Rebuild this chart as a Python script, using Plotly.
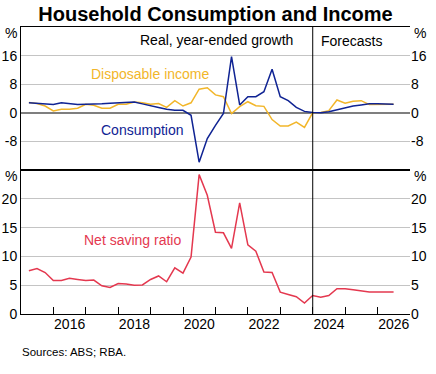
import plotly.graph_objects as go
import pandas as pd

# Quarterly data, Mar 2015 to Jun 2026 (forecasts from Mar 2024)
quarters = pd.date_range("2015-03-31", periods=46, freq="QE")

consumption = [2.8, 2.6, 2.5, 2.3, 2.8, 2.6, 2.3, 2.4, 2.4, 2.5, 2.7, 2.8, 2.8, 3.0, 2.5, 1.9,
               1.5, 1.0, 0.7, 0.7, -0.7, -13.8, -7.2, -3.5, -0.2, 15.7, 2.2, 4.5, 4.5, 5.9, 12.2,
               4.5, 3.4, 1.5, 0.4, 0.1, 0.0, 0.3, 0.9, 1.4, 1.9, 2.2, 2.5, 2.5, 2.5, 2.4]
income = [2.9, 2.6, 1.9, 0.5, 1.0, 1.0, 1.3, 2.4, 2.1, 1.3, 1.3, 2.4, 2.4, 3.0, 2.8, 2.4,
          2.6, 1.5, 3.4, 1.9, 2.8, 6.6, 7.0, 5.0, 4.5, -0.2, 1.7, 3.1, 2.0, 1.8, -1.9,
          -3.7, -3.7, -2.6, -4.1, 0.0, 0.1, 0.6, 3.6, 2.7, 3.2, 3.4, 2.3, 2.3, 2.3, 2.4]
saving = [7.5, 7.9, 7.2, 5.8, 5.8, 6.2, 6.0, 5.8, 5.9, 4.9, 4.6, 5.3, 5.2, 5.0, 5.05, 6.0,
          6.6, 5.6, 8.0, 7.1, 9.9, 24.2, 20.6, 14.2, 14.1, 11.4, 19.3, 12.0, 10.9, 7.3, 7.2,
          3.8, 3.4, 3.0, 1.9, 3.2, 2.9, 3.2, 4.4, 4.4, 4.2, 4.0, 3.8, 3.8, 3.8, 3.8]

top_ticks = [-8, 0, 8, 16]
bottom_ticks = [0, 5, 10, 15, 20]
year_starts = [f"{y}-01-01" for y in range(2015, 2028)]
label_years = [2016, 2018, 2020, 2022, 2024, 2026]
forecast_start = "2024-01-01"
x_range = ["2015-01-01", "2027-01-01"]

BLUE = "#0f2393"
YELLOW = "#f2b62a"
RED = "#e4384f"
GRID = "#c4c4c4"
FONT = "Liberation Sans, Arial, sans-serif"

fig = go.Figure()
fig.add_trace(go.Scatter(x=quarters, y=income, mode="lines", line=dict(color=YELLOW, width=1.5),
                         xaxis="x", yaxis="y", showlegend=False))
fig.add_trace(go.Scatter(x=quarters, y=consumption, mode="lines", line=dict(color=BLUE, width=1.5),
                         xaxis="x", yaxis="y", showlegend=False))
fig.add_trace(go.Scatter(x=quarters, y=saving, mode="lines", line=dict(color=RED, width=1.5),
                         xaxis="x2", yaxis="y2", showlegend=False))
# invisible traces so the mirrored axes are drawn
fig.add_trace(go.Scatter(x=[quarters[0]], y=[None], xaxis="x", yaxis="y3", showlegend=False, hoverinfo="skip"))
fig.add_trace(go.Scatter(x=[quarters[0]], y=[None], xaxis="x2", yaxis="y4", showlegend=False, hoverinfo="skip"))
fig.add_trace(go.Scatter(x=[quarters[0]], y=[None], xaxis="x3", yaxis="y2", showlegend=False, hoverinfo="skip"))

split = 144 / 287
tickfont = dict(family=FONT, size=14, color="black")

fig.update_layout(
    width=436, height=374,
    margin=dict(l=21, r=26, t=27, b=60, autoexpand=False),
    paper_bgcolor="white", plot_bgcolor="white",
    font=dict(family=FONT, size=14, color="black"),
    title=dict(text="<b>Household Consumption and Income</b>", x=0.5, xref="paper",
               y=1 - 14 / 374, yref="container", xanchor="center", yanchor="middle",
               font=dict(family=FONT, size=20, color="black")),
    xaxis=dict(domain=[0, 1], anchor="y", type="date", range=x_range, showticklabels=False,
               showgrid=False, zeroline=False, showline=True, linecolor="black", linewidth=1,
               mirror=True, ticks="", automargin=False),
    xaxis2=dict(domain=[0, 1], anchor="y2", type="date", range=x_range, showticklabels=False,
                showgrid=False, zeroline=False, showline=True, linecolor="black", linewidth=1,
                mirror=True, tickmode="array", tickvals=year_starts, ticks="inside",
                ticklen=7, tickcolor="black", tickwidth=1, automargin=False),
    xaxis3=dict(overlaying="x2", anchor="y2", type="date", range=x_range,
                tickmode="array", tickvals=[f"{y}-07-02" for y in label_years],
                ticktext=[str(y) for y in label_years], ticks="", showgrid=False,
                zeroline=False, showline=False, tickfont=tickfont, side="bottom", automargin=False),
    yaxis=dict(domain=[split, 1], anchor="x", range=[-16, 24], tickmode="array",
               tickvals=top_ticks, ticktext=[str(v) for v in top_ticks], tickfont=tickfont,
               showgrid=True, gridcolor=GRID, gridwidth=1, zeroline=True,
               zerolinecolor="#7f7f7f", zerolinewidth=2, showline=True, linecolor="black",
               linewidth=1, ticks="", automargin=False),
    yaxis2=dict(domain=[0, split], anchor="x2", range=[0, 25], tickmode="array",
                tickvals=bottom_ticks, ticktext=[str(v) for v in bottom_ticks], tickfont=tickfont,
                showgrid=True, gridcolor=GRID, gridwidth=1, zeroline=False, showline=True,
                linecolor="black", linewidth=1, ticks="", automargin=False),
    yaxis3=dict(overlaying="y", anchor="x", side="right", range=[-16, 24], tickmode="array",
                tickvals=top_ticks, ticktext=[str(v) for v in top_ticks], tickfont=tickfont,
                showgrid=False, zeroline=False, showline=False, ticks="", automargin=False),
    yaxis4=dict(overlaying="y2", anchor="x2", side="right", range=[0, 25], tickmode="array",
                tickvals=bottom_ticks, ticktext=[str(v) for v in bottom_ticks], tickfont=tickfont,
                showgrid=False, zeroline=False, showline=False, ticks="", automargin=False),
)

fig.add_shape(type="line", xref="x", yref="paper", x0=forecast_start, x1=forecast_start,
              y0=0, y1=1, line=dict(color="black", width=1))

ann = [
    dict(text="Disposable income", x="2018-12-25", y=10.9, xref="x", yref="y", color=YELLOW),
    dict(text="Consumption", x="2018-10-06", y=-4.9, xref="x", yref="y", color=BLUE),
    dict(text="Net saving ratio", x="2018-06-05", y=12.9, xref="x2", yref="y2", color=RED),
    dict(text="Real, year-ended growth", x="2021-01-08", y=20.4, xref="x", yref="y", color="black"),
    dict(text="Forecasts", x="2025-03-15", y=20.1, xref="x", yref="y", color="black"),
]
for a in ann:
    fig.add_annotation(showarrow=False, xanchor="center", yanchor="middle",
                       font=dict(family=FONT, size=14, color=a["color"]),
                       text=a["text"], x=a["x"], y=a["y"], xref=a["xref"], yref=a["yref"])

# % unit labels
for xp, anchor in [(-0.005, "right"), (1.005, "left")]:
    fig.add_annotation(text="%", x=xp, y=22.4, xref="paper", yref="y", showarrow=False,
                       xanchor=anchor, yanchor="middle", font=dict(family=FONT, size=14))
    fig.add_annotation(text="%", x=xp, y=23.9, xref="paper", yref="y2", showarrow=False,
                       xanchor=anchor, yanchor="middle", font=dict(family=FONT, size=14))

fig.add_annotation(text="Sources: ABS; RBA.", x=-0.003, y=(314 - 352) / 287, xref="paper", yref="paper",
                   showarrow=False, xanchor="left", yanchor="middle",
                   font=dict(family=FONT, size=11.5, color="black"))

fig.write_html("out.html", config={"displayModeBar": False},
               post_script="document.body.style.margin='0';document.body.style.overflow='hidden';")
